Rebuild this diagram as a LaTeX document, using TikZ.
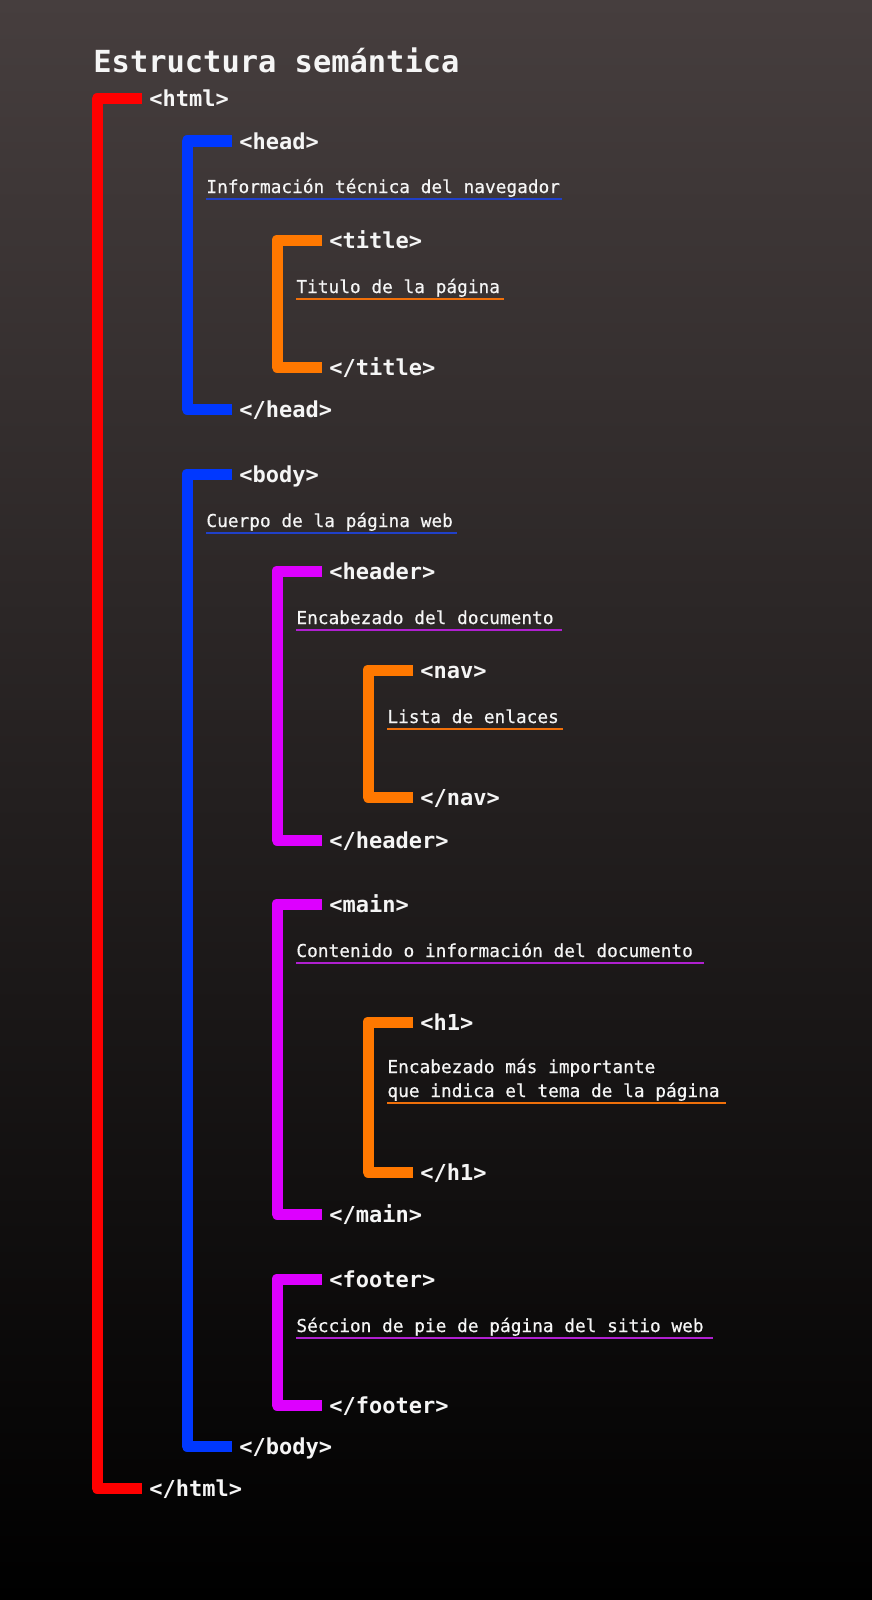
\documentclass[tikz,border=0pt]{standalone}
\usepackage{fontspec}
\setmonofont{DejaVu Sans Mono}
\newfontfamily\notefont{DejaVu Sans Mono}[BoldFont={DejaVu Sans Mono}, BoldFeatures={FakeBold=0.5}]
\usepackage{xcolor}
\usepackage{tikz}

\definecolor{barred}{RGB}{255,0,0}
\definecolor{barblue}{RGB}{0,56,255}
\definecolor{barorange}{RGB}{255,120,0}
\definecolor{barviolet}{RGB}{221,0,255}
\definecolor{lineblue}{RGB}{32,64,200}
\definecolor{lineorange}{RGB}{240,112,10}
\definecolor{lineviolet}{RGB}{176,32,208}
\definecolor{bgtop}{RGB}{70,62,62}
\definecolor{bgmid}{RGB}{30,26,26}
\definecolor{txt}{RGB}{245,245,245}

\begin{document}
\begin{tikzpicture}[x=0.5pt, y=-0.5pt,
    heading/.style={anchor=base west, inner sep=0pt, text=txt, font=\ttfamily\bfseries\fontsize{15.2}{18}\selectfont},
    tag/.style={anchor=west, inner sep=0pt, text height=8pt, text depth=0pt, text=txt, font=\ttfamily\bfseries\fontsize{11}{13}\selectfont},
    note/.style={anchor=base west, inner sep=0pt, text=txt, align=left, font=\notefont\bfseries\fontsize{8.9}{12}\selectfont},
    bar/.style={line width=5.5pt, line join=round, line cap=butt},
    uline/.style={line width=1pt}]
    % background
    \shade[top color=bgtop, middle color=bgmid, bottom color=black] (0,0) rectangle (872,1600);

    \node[heading] (head0) at (93,73) {Estructura semántica};

    % html
    \node[tag] (ohtml) at (149,99) {<html>};
    \node[tag] (chtml) at (149,1488) {</html>};
    \draw[bar, barred] ([xshift=-3.5pt]ohtml.west) -| ([xshift=-26pt]chtml.west) -- ([xshift=-3.5pt]chtml.west);

    % head
    \node[tag] (ohead) at (239,141) {<head>};
    \node[tag] (chead) at (239,409) {</head>};
    \draw[bar, barblue] ([xshift=-3.5pt]ohead.west) -| ([xshift=-26pt]chead.west) -- ([xshift=-3.5pt]chead.west);
    \node[note] (info) at (206,193) {Información técnica del navegador};
    \draw[uline, lineblue] ([yshift=-3pt]info.base west) -- (562,199);

    % title
    \node[tag] (otitle) at (329,240) {<title>};
    \node[tag] (ctitle) at (329,367) {</title>};
    \draw[bar, barorange] ([xshift=-3.5pt]otitle.west) -| ([xshift=-26pt]ctitle.west) -- ([xshift=-3.5pt]ctitle.west);
    \node[note] (tnote) at (296,293) {Titulo de la página};
    \draw[uline, lineorange] ([yshift=-3pt]tnote.base west) -- (504,299);

    % body
    \node[tag] (obody) at (239,474) {<body>};
    \node[tag] (cbody) at (239,1446) {</body>};
    \draw[bar, barblue] ([xshift=-3.5pt]obody.west) -| ([xshift=-26pt]cbody.west) -- ([xshift=-3.5pt]cbody.west);
    \node[note] (bnote) at (206,527) {Cuerpo de la página web};
    \draw[uline, lineblue] ([yshift=-3pt]bnote.base west) -- (457,533);

    % header
    \node[tag] (oheader) at (329,571) {<header>};
    \node[tag] (cheader) at (329,840) {</header>};
    \draw[bar, barviolet] ([xshift=-3.5pt]oheader.west) -| ([xshift=-26pt]cheader.west) -- ([xshift=-3.5pt]cheader.west);
    \node[note] (hnote) at (296,624) {Encabezado del documento};
    \draw[uline, lineviolet] ([yshift=-3pt]hnote.base west) -- (562,630);

    % nav
    \node[tag] (onav) at (420,670) {<nav>};
    \node[tag] (cnav) at (420,797) {</nav>};
    \draw[bar, barorange] ([xshift=-3.5pt]onav.west) -| ([xshift=-26pt]cnav.west) -- ([xshift=-3.5pt]cnav.west);
    \node[note] (nnote) at (387,723) {Lista de enlaces};
    \draw[uline, lineorange] ([yshift=-3pt]nnote.base west) -- (563,729);

    % main
    \node[tag] (omain) at (329,904) {<main>};
    \node[tag] (cmain) at (329,1214) {</main>};
    \draw[bar, barviolet] ([xshift=-3.5pt]omain.west) -| ([xshift=-26pt]cmain.west) -- ([xshift=-3.5pt]cmain.west);
    \node[note] (mnote) at (296,957) {Contenido o información del documento};
    \draw[uline, lineviolet] ([yshift=-3pt]mnote.base west) -- (704,963);

    % h1 (base is the last line)
    \node[tag] (oh1) at (420,1022) {<h1>};
    \node[tag] (ch1) at (420,1172) {</h1>};
    \draw[bar, barorange] ([xshift=-3.5pt]oh1.west) -| ([xshift=-26pt]ch1.west) -- ([xshift=-3.5pt]ch1.west);
    \node[note] (h1note) at (387,1097) {Encabezado más importante\\que indica el tema de la página};
    \draw[uline, lineorange] ([yshift=-3pt]h1note.base west) -- (726,1103);

    % footer
    \node[tag] (ofooter) at (329,1279) {<footer>};
    \node[tag] (cfooter) at (329,1405) {</footer>};
    \draw[bar, barviolet] ([xshift=-3.5pt]ofooter.west) -| ([xshift=-26pt]cfooter.west) -- ([xshift=-3.5pt]cfooter.west);
    \node[note] (fnote) at (296,1332) {Séccion de pie de página del sitio web};
    \draw[uline, lineviolet] ([yshift=-3pt]fnote.base west) -- (713,1338);
\end{tikzpicture}
\end{document}
